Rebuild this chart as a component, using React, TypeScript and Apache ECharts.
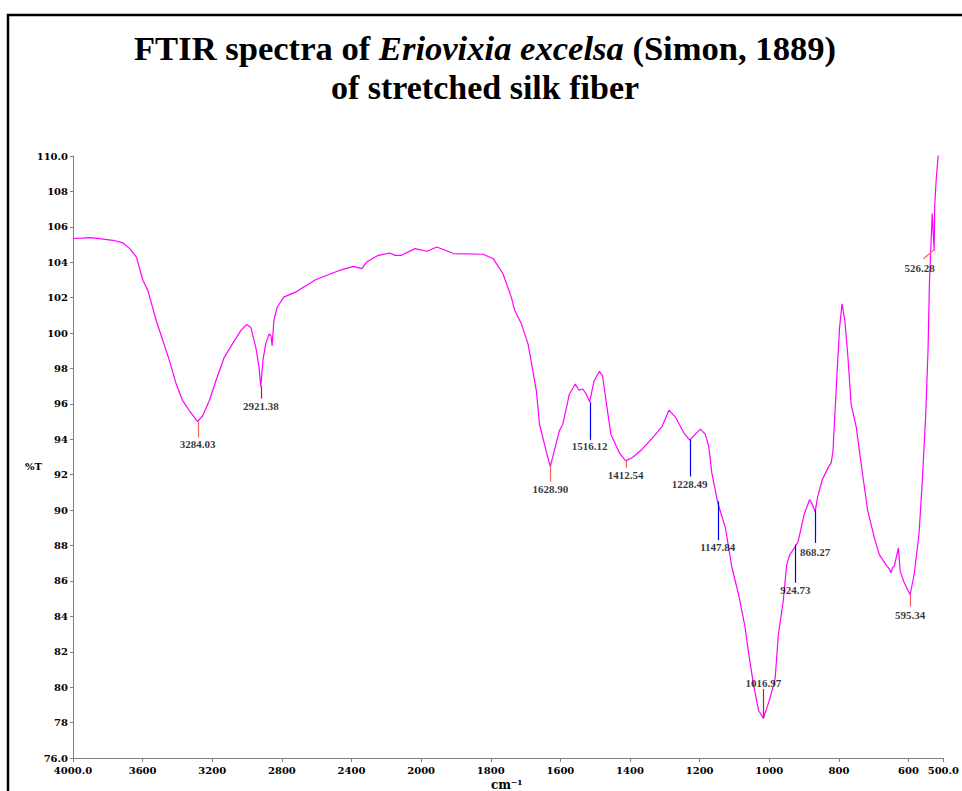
import React, { useEffect, useRef } from "react";
import * as echarts from "echarts";

// Spectrum (wavenumber in cm-1, transmittance in %T)
const wavenumbers = [
  4000, 3950, 3903, 3850, 3770, 3713, 3674, 3636, 3598, 3570, 3522, 3484, 3446, 3407, 3370, 3331,
  3284.03, 3255, 3217, 3179, 3131, 3084, 3036, 3004, 2979, 2950, 2931, 2921.38, 2909, 2893, 2874,
  2863, 2856, 2846, 2827, 2789, 2722, 2607, 2493, 2455, 2389, 2341, 2313, 2246, 2179, 2150, 2113,
  2036, 1983, 1955, 1907, 1822, 1793, 1765, 1741, 1731, 1712, 1693, 1683, 1669, 1660, 1641, 1628.9,
  1603, 1593, 1574, 1557, 1547, 1536, 1526, 1516.12, 1503, 1488, 1479, 1469, 1455, 1431, 1412.54,
  1393, 1365, 1326, 1307, 1288, 1269, 1246, 1228.49, 1212, 1198, 1184, 1174, 1165, 1147.84, 1126,
  1107, 1088, 1069, 1060, 1045, 1031, 1016.97, 998, 983, 974, 960, 950, 941, 924.73, 917, 900, 884,
  876, 868.27, 861, 848, 831, 822, 817, 807, 798, 791, 783, 774, 765, 750, 736, 717, 698, 684, 665,
  656, 650, 646, 641, 629, 624, 612, 595.34, 584, 570, 561, 551, 544, 540, 535, 532, 529, 526.28,
  525, 520, 515, 510,
];
const transmittance = [
  105.34, 105.36, 105.39, 105.33, 105.24, 105.09, 104.77, 104.29, 102.97, 102.41, 100.71, 99.58,
  98.44, 97.12, 96.18, 95.61, 95.0, 95.33, 96.18, 97.31, 98.63, 99.39, 100.14, 100.48, 100.33, 99.2,
  98.06, 96.97, 98.44, 99.39, 99.95, 99.86, 99.29, 100.71, 101.46, 102.03, 102.31, 103.01, 103.45,
  103.58, 103.77, 103.64, 104.01, 104.39, 104.52, 104.39, 104.39, 104.77, 104.62, 104.86, 104.49,
  104.45, 104.2, 103.35, 102.03, 101.27, 100.52, 99.39, 98.3, 96.74, 94.85, 93.34, 92.47, 94.48,
  94.85, 96.56, 97.12, 96.78, 96.84, 96.56, 96.12, 97.31, 97.83, 97.59, 96.18, 94.29, 93.25, 92.78,
  92.97, 93.44, 94.29, 94.76, 95.65, 95.24, 94.38, 93.95, 94.29, 94.57, 94.29, 93.63, 92.1, 90.4,
  89.0, 86.73, 85.22, 83.33, 82.01, 80.12, 78.7, 78.23, 79.37, 80.5, 82.96, 84.84, 86.92, 87.49,
  87.96, 88.24, 89.75, 90.6, 90.31, 89.9, 90.75, 91.7, 92.4, 92.68, 93.34, 97.12, 100.33, 101.65,
  100.71, 98.63, 95.99, 94.67, 92.59, 89.94, 88.43, 87.49, 86.92, 86.7, 86.45, 86.75, 86.83, 87.86,
  86.54, 85.88, 85.22, 86.35, 88.62, 91.45, 95.23, 99.0, 102.78, 105.24, 106.75, 105.6, 104.67,
  107.13, 108.83, 109.96, 111.5,
];

// Peak annotations
const peakLabels = ["3284.03", "2921.38", "1628.90", "1516.12", "1412.54", "1228.49", "1147.84", "1016.97", "924.73", "868.27", "595.34", "526.28"];
const peakWavenumbers = [3284.03, 2921.38, 1628.9, 1516.12, 1412.54, 1228.49, 1147.84, 1016.97, 924.73, 868.27, 595.34, 526.28];
const peakTopT = [95.0, 97.0, 92.5, 96.1, 92.8, 94.0, 90.5, 78.3, 88.05, 90.0, 85.3, 104.7];
const peakEndWavenumbers = [3284.03, 2921.38, 1628.9, 1516.12, 1412.54, 1228.49, 1147.84, 1016.97, 924.73, 868.27, 595.34, 557];
const peakEndT = [94.1, 96.29, 91.6, 93.97, 92.4, 91.9, 88.3, 79.9, 85.9, 88.15, 84.55, 104.2];
const peakLabelWavenumbers = [3284.03, 2921.38, 1628.9, 1516.12, 1412.54, 1228.49, 1147.84, 1016.97, 924.73, 868.27, 595.34, 568];
const peakLabelT = [93.75, 95.9, 91.2, 93.6, 92.0, 91.5, 87.9, 80.25, 85.5, 87.65, 84.1, 103.7];
const peakColors = ["#f86060", "#ff0000", "#f86060", "#0000ff", "#f86060", "#0000ff", "#0000ff", "#ff0000", "#0000ff", "#0000ff", "#f86060", "#f86060"];

// Tick labels
const xTickValues = [4000, 3600, 3200, 2800, 2400, 2000, 1800, 1600, 1400, 1200, 1000, 800, 600, 500];
const xTickLabels = ["4000.0", "3600", "3200", "2800", "2400", "2000", "1800", "1600", "1400", "1200", "1000", "800", "600", "500.0"];
const yTickValues = [76, 78, 80, 82, 84, 86, 88, 90, 92, 94, 96, 98, 100, 102, 104, 106, 108, 110];
const yTickLabels = ["76.0", "78", "80", "82", "84", "86", "88", "90", "92", "94", "96", "98", "100", "102", "104", "106", "108", "110.0"];

// Two-scale FTIR axis: 400 cm-1 per division above 2000, 200 cm-1 per division below
const toU = (w: number) => (w >= 2000 ? (4000 - w) / 400 : 5 + (2000 - w) / 200);
const fromU = (u: number) => (u <= 5 ? 4000 - 400 * u : 2000 - 200 * (u - 5));

const tickFont = { fontFamily: "DejaVu Serif", fontWeight: "bold" as const, fontSize: 10, color: "#000" };

export default function App() {
  const ref = useRef<HTMLDivElement>(null);
  useEffect(() => {
    if (!ref.current) return;
    const chart = echarts.init(ref.current, undefined, { renderer: "svg" });
    const spectrum = wavenumbers.map((w, i) => [toU(w), transmittance[i]]);
    const peakLineData = peakWavenumbers.map((w, i) => [toU(w), peakTopT[i], toU(peakEndWavenumbers[i]), peakEndT[i]]);
    const labelData = peakLabels.map((t, i) => ({ name: t, value: [toU(peakLabelWavenumbers[i]), peakLabelT[i]] }));

    chart.setOption({
      animation: false,
      backgroundColor: "#fff",
      grid: { left: 73, right: 14, top: 156, bottom: 33, containLabel: false },
      xAxis: {
        type: "value",
        min: 0,
        max: toU(500),
        interval: 1,
        axisLine: { onZero: false, lineStyle: { color: "#808080", width: 1 } },
        axisTick: { length: 4, lineStyle: { color: "#808080" } },
        splitLine: { show: false },
        axisLabel: {
          ...tickFont,
          margin: 7,
          showMinLabel: true,
          showMaxLabel: true,
          formatter: (u: number) => {
            const w = Math.round(fromU(u));
            const idx = xTickValues.indexOf(w);
            return idx >= 0 ? xTickLabels[idx] : "";
          },
        },
      },
      yAxis: {
        type: "value",
        min: 76,
        max: 110,
        interval: 2,
        axisLine: { show: true, lineStyle: { color: "#808080", width: 1 } },
        axisTick: { show: true, length: 3, lineStyle: { color: "#808080" } },
        splitLine: { show: false },
        axisLabel: {
          ...tickFont,
          margin: 5,
          showMinLabel: true,
          showMaxLabel: true,
          formatter: (v: number) => {
            const idx = yTickValues.indexOf(Math.round(v));
            return idx >= 0 ? yTickLabels[idx] : "";
          },
        },
      },
      series: [
        {
          type: "line",
          data: spectrum,
          symbol: "none",
          clip: true,
          lineStyle: { color: "#ff00ff", width: 1.2 },
          z: 3,
        },
        {
          type: "custom",
          data: peakLineData,
          silent: true,
          z: 4,
          renderItem: (params: any, api: any) => {
            const p1 = api.coord([api.value(0), api.value(1)]);
            const p2 = api.coord([api.value(2), api.value(3)]);
            const vertical = Math.abs(p1[0] - p2[0]) < 0.5;
            const x1 = vertical ? Math.round(p1[0]) + 0.5 : p1[0];
            const x2 = vertical ? x1 : p2[0];
            return {
              type: "line",
              shape: { x1, y1: p1[1], x2, y2: p2[1] },
              style: { stroke: peakColors[params.dataIndex], lineWidth: 1.2 },
            };
          },
        },
        {
          type: "scatter",
          data: labelData,
          symbolSize: 1,
          itemStyle: { color: "rgba(0,0,0,0)" },
          silent: true,
          label: {
            show: true,
            position: "inside",
            formatter: "{b}",
            color: "#000",
            fontFamily: "Liberation Serif",
            fontWeight: "bold",
            fontSize: 11,
          },
          z: 5,
        },
      ],
      graphic: [
        {
          type: "rect",
          shape: { x: 8, y: 15, width: 1100, height: 1000 },
          style: { fill: "none", stroke: "#000", lineWidth: 2.5 },
          silent: true,
          z: -1,
        },
        {
          type: "text",
          x: 485,
          y: 48,
          style: {
            text: "{b|FTIR spectra of }{i|Eriovixia excelsa}{b| (Simon, 1889)}",
            align: "center",
            verticalAlign: "middle",
            rich: {
              b: { fontFamily: "Liberation Serif", fontWeight: "bold", fontSize: 34.6, fill: "#000" },
              i: { fontFamily: "Liberation Serif", fontWeight: "bold", fontStyle: "italic", fontSize: 34.6, fill: "#000" },
            },
          },
        },
        {
          type: "text",
          x: 485,
          y: 87,
          style: {
            text: "of stretched silk fiber",
            align: "center",
            verticalAlign: "middle",
            font: "bold 34px 'Liberation Serif'",
            fill: "#000",
          },
        },
        {
          type: "text",
          x: 25,
          y: 466,
          style: {
            text: "%T",
            verticalAlign: "middle",
            font: "bold 10px 'DejaVu Serif'",
            fill: "#000",
          },
        },
        {
          type: "text",
          x: 491,
          y: 779,
          style: {
            text: "cm⁻¹",
            verticalAlign: "top",
            font: "bold 12px 'DejaVu Serif'",
            fill: "#000",
          },
        },
      ],
    });
    return () => chart.dispose();
  }, []);
  return <div ref={ref} style={{ position: "absolute", left: 0, top: 0, width: 962, height: 791 }} />;
}
